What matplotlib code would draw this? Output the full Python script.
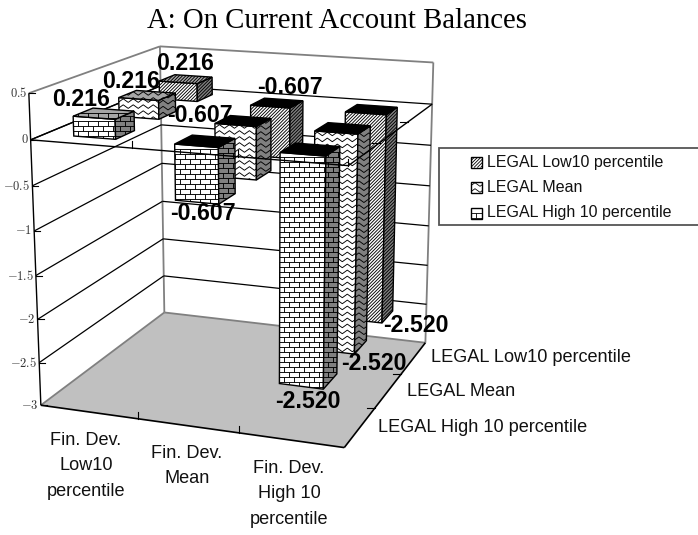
import numpy as np
import matplotlib
matplotlib.use('Agg')
import matplotlib.pyplot as plt
from matplotlib.patches import Polygon, Rectangle
from matplotlib.collections import LineCollection

plt.rcParams['mathtext.fontset'] = 'cm'

## Data
fin_dev = ['Fin. Dev.\nLow10\npercentile', 'Fin. Dev.\nMean', 'Fin. Dev.\nHigh 10\npercentile']
legal = ['LEGAL High 10 percentile', 'LEGAL Mean', 'LEGAL Low10 percentile']  # front to back
legal_high = [0.216, -0.607, -2.520]
legal_mean = [0.216, -0.607, -2.520]
legal_low = [0.216, -0.607, -2.520]
value_ticks = [0.5, 0, -0.5, -1, -1.5, -2, -2.5, -3]
value_labels = ['0.5', '0', '-0.5', '-1', '-1.5', '-2', '-2.5', '-3']

## Layout (pixels)
W, H = 698, 535
ZTOP, ZBOT = 0.5, -3.0
HALF_U, HALF_V = 0.21, 0.21
# label anchors by [row][column]
label_xy = [[(81, 99), (203, 213), (308, 401)],
            [(131, 82), (200, 115), (374, 364)],
            [(185, 64), (290, 88), (416, 325)]]

## Camera fitted on the corners of the box
world = [(0, 0, ZTOP), (0, 0, ZBOT), (3, 0, ZTOP), (3, 0, ZBOT),
         (0, 3, ZTOP), (0, 3, ZBOT), (3, 3, ZTOP), (3, 3, ZBOT)]
pixel = [(29, 92), (41, 405), (348, 117), (345, 448),
         (160, 47), (164, 313), (434, 62), (425, 342)]
A = []
for (a, b, c), (px, py) in zip(world, pixel):
    A.append([a, b, c, 1, 0, 0, 0, 0, -px*a, -px*b, -px*c, -px])
    A.append([0, 0, 0, 0, a, b, c, 1, -py*a, -py*b, -py*c, -py])
P = np.linalg.svd(np.array(A, dtype=float))[2][-1].reshape(3, 4)


def project(u, v, w):
    q = P @ np.array([u, v, w, 1.0])
    return q[0]/q[2], q[1]/q[2]


def line3(ax, p0, p1, color='k', lw=1.0, z=2):
    a, b = project(*p0), project(*p1)
    ax.plot([a[0], b[0]], [a[1], b[1]], color=color, lw=lw, zorder=z, solid_capstyle='butt')


def diag_segs(x0, y0, x1, y1):
    segs = []
    h = y1 - y0
    for s in np.arange(x0 - 2, x1 + h + 4, 3.3):
        segs.append([(s, y0), (s - h, y1)])
    return segs


def wave_segs(x0, y0, x1, y1):
    segs = []
    for k, y in enumerate(np.arange(y0 + 3, y1 + 6, 6.0)):
        xs = np.arange(x0 - 8, x1 + 8, 2.5)
        ys = y + np.array([0, -1.8, 0, 1.8])[np.arange(len(xs)) % 4]
        segs.append(list(zip(xs, ys)))
    return segs


def brick_segs(x0, y0, x1, y1):
    segs = []
    for k, y in enumerate(np.arange(y0 + 5, y1 + 5, 5.0)):
        segs.append([(x0 - 1, y), (x1 + 1, y)])
        off = 0 if k % 2 else 5
        for x in np.arange(x0 + off, x1 + 1, 10.0):
            segs.append([(x, y), (x, y + 5)])
    return segs


def pattern_poly(ax, pts, face, pattern, lw=0.65, z=3, edge='k', elw=1.0):
    poly = Polygon(pts, closed=True, facecolor=face, edgecolor='none', zorder=z)
    ax.add_patch(poly)
    if pattern is not None:
        xs, ys = zip(*pts)
        lc = LineCollection(pattern(min(xs), min(ys), max(xs), max(ys)), colors='k', linewidths=lw, zorder=z)
        ax.add_collection(lc)
        lc.set_clip_path(poly)
    ax.add_patch(Polygon(pts, closed=True, facecolor='none', edgecolor=edge, lw=elw, zorder=z))


def bar(ax, col, row, val, pattern, z):
    u0, u1 = col + 0.5 - HALF_U, col + 0.5 + HALF_U
    v0, v1 = row + 0.5 - HALF_V, row + 0.5 + HALF_V
    w0, w1 = min(val, 0), max(val, 0)
    front = [project(u0, v0, w1), project(u1, v0, w1), project(u1, v0, w0), project(u0, v0, w0)]
    side = [project(u1, v0, w1), project(u1, v1, w1), project(u1, v1, w0), project(u1, v0, w0)]
    top = [project(u0, v0, w1), project(u1, v0, w1), project(u1, v1, w1), project(u0, v1, w1)]
    pattern_poly(ax, front, 'white', pattern, z=z)
    pattern_poly(ax, side, '#808080', pattern, z=z)
    if val < 0:
        pattern_poly(ax, top, 'black', None, z=z)
    else:
        pattern_poly(ax, top, '#a6a6a6', pattern, z=z)


fig = plt.figure(figsize=(W/100, H/100), dpi=100)
ax = fig.add_axes([0, 0, 1, 1])
ax.set_xlim(0, W)
ax.set_ylim(H, 0)
ax.axis('off')

## Floor and walls
floor = [project(0, 0, ZBOT), project(3, 0, ZBOT), project(3, 3, ZBOT), project(0, 3, ZBOT)]
ax.add_patch(Polygon(floor, closed=True, facecolor='#c0c0c0', edgecolor='none', zorder=1))
gray = '#808080'
for p0, p1 in [((0, 3, ZBOT), (0, 3, ZTOP)), ((3, 3, ZBOT), (3, 3, ZTOP)),
               ((0, 0, ZTOP), (0, 3, ZTOP)), ((0, 3, ZTOP), (3, 3, ZTOP)),
               ((0, 0, ZBOT), (0, 3, ZBOT)), ((0, 3, ZBOT), (3, 3, ZBOT))]:
    line3(ax, p0, p1, color=gray, lw=1.3, z=2)
for w in value_ticks[1:-1]:
    line3(ax, (0, 0, w), (0, 3, w), lw=0.9)
    line3(ax, (0, 3, w), (3, 3, w), lw=0.9)
line3(ax, (0, 0, ZTOP), (0, 0, ZBOT), lw=1.0)
line3(ax, (0, 0, ZBOT), (3, 0, ZBOT), lw=1.2, z=2.5)
line3(ax, (3, 0, ZBOT), (3, 3, ZBOT), lw=1.2, z=2.5)

## Value axis ticks and labels
for w, lab in zip(value_ticks, value_labels):
    x, y = project(0, 0, w)
    ax.plot([x, x + 6], [y, y], color='k', lw=0.8, zorder=2)
    ax.text(x - 2, y, '$' + lab + '$', ha='right', va='center', fontsize=9, color='#333333')

## Bottom ticks
for k in (1, 2):
    x, y = project(k, 0, ZBOT)
    ax.plot([x, x], [y, y - 7], color='k', lw=0.8, zorder=2)
    x, y = project(3, k, ZBOT)
    ax.plot([x, x - 8], [y, y], color='k', lw=0.8, zorder=2)

## Bars, back row first
series = [legal_high, legal_mean, legal_low]
patterns = [brick_segs, wave_segs, diag_segs]
z = 3.0
for row in (2, 1, 0):
    for col in range(3):
        bar(ax, col, row, series[row][col], patterns[row], z)
        z += 0.01

## Zero plane lines stay on top of the bars
line3(ax, (0, 0, 0), (0, 3, 0), lw=1.0, z=2)
line3(ax, (0, 0, 0), (3, 0, 0), lw=1.0, z=5)
line3(ax, (3, 0, 0), (3, 3, 0), lw=1.0, z=5)
for k in (1, 2, 3):
    x, y = project(k, 0, 0)
    ax.plot([x, x], [y, y - 7], color='k', lw=0.8, zorder=5)
for k in (1, 2):
    x, y = project(3, k, 0)
    ax.plot([x, x - 8], [y, y], color='k', lw=0.8, zorder=5)

## Data labels
for row in range(3):
    for col in range(3):
        x, y = label_xy[row][col]
        ax.text(x, y, '%.3f' % series[row][col], ha='center', va='center', fontsize=16.7,
                fontweight='bold', family='Liberation Sans', zorder=6)

## Category labels
for txt, x, y in zip(fin_dev, (86, 187, 289), (466, 466, 494)):
    ax.text(x, y, txt, ha='center', va='center', fontsize=13.1, family='Liberation Sans',
            linespacing=1.69, color='#111111', zorder=6)
for txt, x, y in zip(legal, (378, 407, 431), (428, 391, 357)):
    ax.text(x, y, txt, ha='left', va='center', fontsize=13.1, family='Liberation Sans',
            color='#111111', zorder=6)

## Legend
ax.add_patch(Rectangle((439, 148), 270, 77, facecolor='white', edgecolor='#555555', lw=1.3, zorder=6))
for txt, y, pat in zip(legal[::-1], (162, 187, 213), patterns[::-1]):
    pts = [(470.5, y - 5.5), (482, y - 5.5), (482, y + 5.5), (470.5, y + 5.5)]
    pattern_poly(ax, pts, 'white', pat, lw=0.6, z=7)
    ax.text(487, y, txt, ha='left', va='center', fontsize=11.5, family='Liberation Sans',
            color='#111111', zorder=7)

ax.text(337, 21, 'A: On Current Account Balances', ha='center', va='center', fontsize=20.7,
        family='Liberation Serif', zorder=7)

fig.savefig('out.png', dpi=100)
